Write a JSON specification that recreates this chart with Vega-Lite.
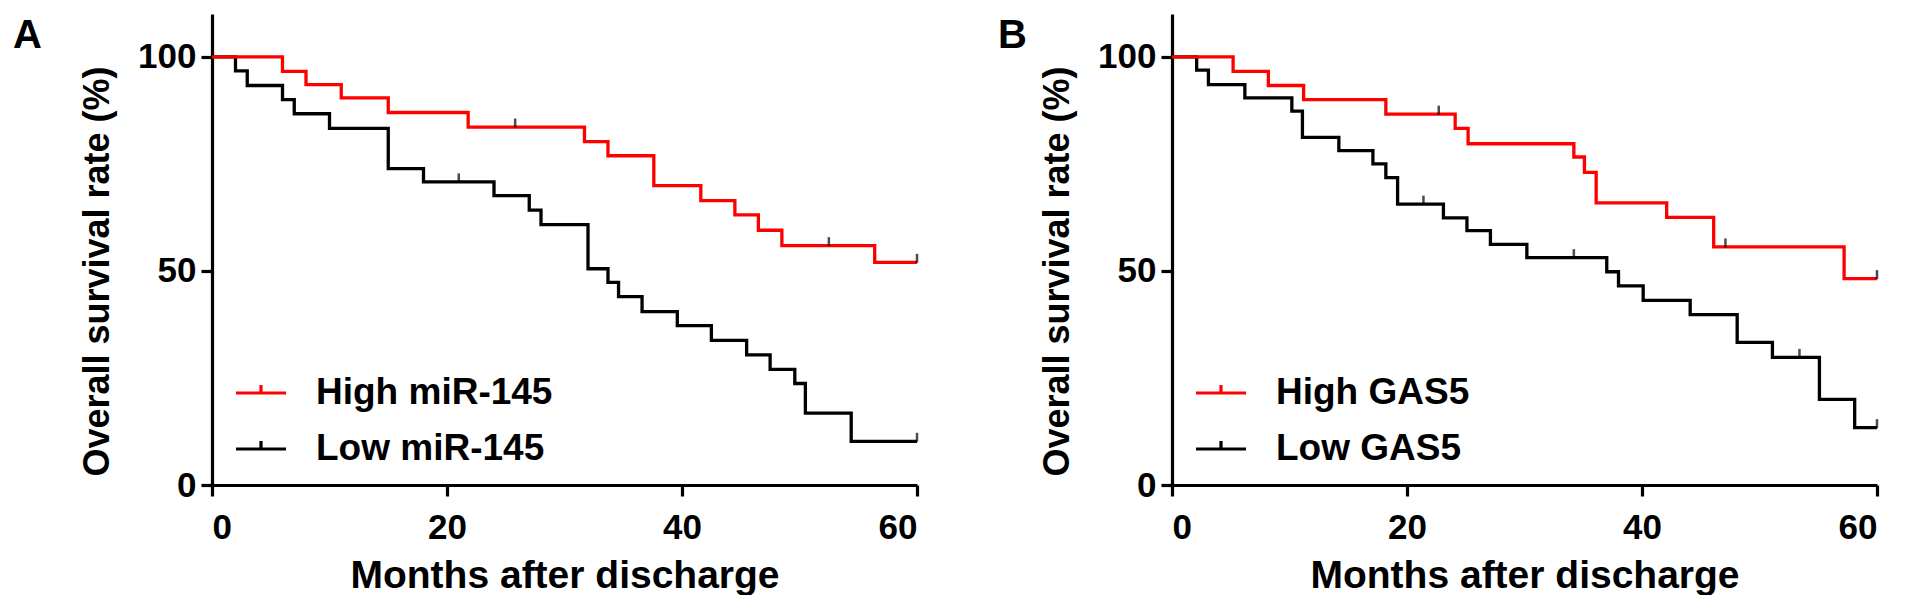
{
  "$schema": "https://vega.github.io/schema/vega-lite/v6.json",
  "background": "white",
  "padding": {"left": 13, "top": 14, "right": 0, "bottom": 0},
  "autosize": {"type": "pad"},
  "spacing": 74,
  "config": {
    "view": {"stroke": null},
    "font": "Liberation Sans",
    "axis": {
      "grid": false,
      "domainColor": "black",
      "domainWidth": 3.2,
      "tickColor": "black",
      "tickWidth": 3.2,
      "tickSize": 11,
      "labelFont": "Liberation Sans",
      "labelFontWeight": "bold",
      "labelFontSize": 35,
      "labelColor": "black",
      "titleFont": "Liberation Sans",
      "titleFontWeight": "bold",
      "titleFontSize": 36,
      "titleColor": "black"
    },
    "legend": {
      "orient": "none",
      "legendX": 22,
      "legendY": 352,
      "symbolType": "M-1,0H1M0,0V-0.32",
      "symbolSize": 2500,
      "symbolStrokeWidth": 3.2,
      "symbolFillColor": "transparent",
      "labelFont": "Liberation Sans",
      "labelFontWeight": "bold",
      "labelFontSize": 37,
      "labelColor": "black",
      "labelOffset": 28,
      "labelLimit": 0,
      "rowPadding": 11,
      "title": null
    },
    "title": {
      "font": "Liberation Sans",
      "fontWeight": "bold",
      "fontSize": 40,
      "color": "black",
      "anchor": "start",
      "frame": "group",
      "baseline": "top",
      "offset": -42
    }
  },
  "datasets": {
    "curveA": [
      {"group": "Low miR-145", "month": 0, "pct": 100},
      {"group": "Low miR-145", "month": 2, "pct": 96.7},
      {"group": "Low miR-145", "month": 3, "pct": 93.3},
      {"group": "Low miR-145", "month": 6, "pct": 90},
      {"group": "Low miR-145", "month": 7, "pct": 86.7},
      {"group": "Low miR-145", "month": 10, "pct": 83.3},
      {"group": "Low miR-145", "month": 15, "pct": 73.9},
      {"group": "Low miR-145", "month": 18, "pct": 70.8},
      {"group": "Low miR-145", "month": 24, "pct": 67.6},
      {"group": "Low miR-145", "month": 27, "pct": 64.2},
      {"group": "Low miR-145", "month": 28, "pct": 60.8},
      {"group": "Low miR-145", "month": 32, "pct": 50.5},
      {"group": "Low miR-145", "month": 33.7, "pct": 47.3},
      {"group": "Low miR-145", "month": 34.6, "pct": 44.0},
      {"group": "Low miR-145", "month": 36.6, "pct": 40.5},
      {"group": "Low miR-145", "month": 39.6, "pct": 37.2},
      {"group": "Low miR-145", "month": 42.5, "pct": 33.8},
      {"group": "Low miR-145", "month": 45.5, "pct": 30.4},
      {"group": "Low miR-145", "month": 47.5, "pct": 27.0},
      {"group": "Low miR-145", "month": 49.6, "pct": 23.7},
      {"group": "Low miR-145", "month": 50.5, "pct": 16.8},
      {"group": "Low miR-145", "month": 54.4, "pct": 10.2},
      {"group": "Low miR-145", "month": 60, "pct": 10.2},
      {"group": "High miR-145", "month": 0, "pct": 100},
      {"group": "High miR-145", "month": 6, "pct": 96.6},
      {"group": "High miR-145", "month": 8, "pct": 93.5},
      {"group": "High miR-145", "month": 11, "pct": 90.4},
      {"group": "High miR-145", "month": 15, "pct": 87.0},
      {"group": "High miR-145", "month": 21.8, "pct": 83.6},
      {"group": "High miR-145", "month": 31.7, "pct": 80.2},
      {"group": "High miR-145", "month": 33.7, "pct": 76.9},
      {"group": "High miR-145", "month": 37.6, "pct": 69.9},
      {"group": "High miR-145", "month": 41.6, "pct": 66.4},
      {"group": "High miR-145", "month": 44.5, "pct": 63.1},
      {"group": "High miR-145", "month": 46.5, "pct": 59.5},
      {"group": "High miR-145", "month": 48.5, "pct": 55.9},
      {"group": "High miR-145", "month": 56.4, "pct": 52.0},
      {"group": "High miR-145", "month": 60, "pct": 52.0}
    ],
    "censorA": [
      {"group": "Low miR-145", "month": 21, "pct": 70.8},
      {"group": "Low miR-145", "month": 60, "pct": 10.2},
      {"group": "High miR-145", "month": 25.8, "pct": 83.6},
      {"group": "High miR-145", "month": 52.5, "pct": 55.9},
      {"group": "High miR-145", "month": 60, "pct": 52.0}
    ],
    "curveB": [
      {"group": "Low GAS5", "month": 0, "pct": 100},
      {"group": "Low GAS5", "month": 2.1, "pct": 96.9},
      {"group": "Low GAS5", "month": 3.1, "pct": 93.5},
      {"group": "Low GAS5", "month": 6.2, "pct": 90.4},
      {"group": "Low GAS5", "month": 10.2, "pct": 87.3},
      {"group": "Low GAS5", "month": 11.1, "pct": 81.2},
      {"group": "Low GAS5", "month": 14.2, "pct": 78.1},
      {"group": "Low GAS5", "month": 17.1, "pct": 75.0},
      {"group": "Low GAS5", "month": 18.2, "pct": 71.8},
      {"group": "Low GAS5", "month": 19.2, "pct": 65.6},
      {"group": "Low GAS5", "month": 23.1, "pct": 62.4},
      {"group": "Low GAS5", "month": 25.1, "pct": 59.4},
      {"group": "Low GAS5", "month": 27.1, "pct": 56.2},
      {"group": "Low GAS5", "month": 30.2, "pct": 53.1},
      {"group": "Low GAS5", "month": 37.0, "pct": 49.8},
      {"group": "Low GAS5", "month": 38.0, "pct": 46.5},
      {"group": "Low GAS5", "month": 40.1, "pct": 43.1},
      {"group": "Low GAS5", "month": 44.1, "pct": 39.8},
      {"group": "Low GAS5", "month": 48.1, "pct": 33.3},
      {"group": "Low GAS5", "month": 51.1, "pct": 29.8},
      {"group": "Low GAS5", "month": 55.1, "pct": 20.0},
      {"group": "Low GAS5", "month": 58.1, "pct": 13.4},
      {"group": "Low GAS5", "month": 60, "pct": 13.4},
      {"group": "High GAS5", "month": 0, "pct": 100},
      {"group": "High GAS5", "month": 5.2, "pct": 96.6},
      {"group": "High GAS5", "month": 8.2, "pct": 93.3},
      {"group": "High GAS5", "month": 11.2, "pct": 90.0},
      {"group": "High GAS5", "month": 18.2, "pct": 86.6},
      {"group": "High GAS5", "month": 24.1, "pct": 83.3},
      {"group": "High GAS5", "month": 25.2, "pct": 79.7},
      {"group": "High GAS5", "month": 34.2, "pct": 76.6},
      {"group": "High GAS5", "month": 35.1, "pct": 73.0},
      {"group": "High GAS5", "month": 36.1, "pct": 65.9},
      {"group": "High GAS5", "month": 42.1, "pct": 62.5},
      {"group": "High GAS5", "month": 46.1, "pct": 55.6},
      {"group": "High GAS5", "month": 57.2, "pct": 48.2},
      {"group": "High GAS5", "month": 60, "pct": 48.2}
    ],
    "censorB": [
      {"group": "Low GAS5", "month": 21.4, "pct": 65.6},
      {"group": "Low GAS5", "month": 34.2, "pct": 53.1},
      {"group": "Low GAS5", "month": 53.4, "pct": 29.8},
      {"group": "Low GAS5", "month": 60, "pct": 13.4},
      {"group": "High GAS5", "month": 22.7, "pct": 86.6},
      {"group": "High GAS5", "month": 47.1, "pct": 55.6},
      {"group": "High GAS5", "month": 60, "pct": 48.2}
    ]
  },
  "resolve": {"scale": {"color": "independent"}, "legend": {"color": "independent"}},
  "hconcat": [
    {
      "title": {"text": "A", "dx": -199},
      "width": 705,
      "height": 471,
      "layer": [
        {
          "data": {"name": "curveA"},
          "mark": {"type": "line", "interpolate": "step-after", "strokeWidth": 3.3, "strokeJoin": "miter"},
          "encoding": {
            "x": {"field": "month", "type": "quantitative", "scale": {"domain": [0, 60], "nice": false},
                  "axis": {"values": [0, 20, 40, 60], "title": "Months after discharge", "titleFontSize": 39, "labelPadding": 14, "titleY": 102, "titleBaseline": "alphabetic"}},
            "y": {"field": "pct", "type": "quantitative", "scale": {"domain": [0, 110], "nice": false},
                  "axis": {"values": [0, 50, 100], "title": "Overall survival rate (%)", "labelPadding": 5, "titleX": -104, "titleY": 257, "titleBaseline": "alphabetic", "titleAlign": "center", "titleAngle": -90}},
            "color": {"field": "group", "type": "nominal",
                      "scale": {"domain": ["High miR-145", "Low miR-145"], "range": ["#ff0000", "#000000"]},
                      "legend": {}}
          }
        },
        {
          "data": {"name": "censorA"},
          "mark": {"type": "tick", "orient": "vertical", "color": "black", "size": 9, "thickness": 2.5, "yOffset": -4},
          "encoding": {
            "x": {"field": "month", "type": "quantitative"},
            "y": {"field": "pct", "type": "quantitative"}
          }
        }
      ]
    },
    {
      "title": {"text": "B", "dx": -174},
      "width": 705,
      "height": 471,
      "layer": [
        {
          "data": {"name": "curveB"},
          "mark": {"type": "line", "interpolate": "step-after", "strokeWidth": 3.3, "strokeJoin": "miter"},
          "encoding": {
            "x": {"field": "month", "type": "quantitative", "scale": {"domain": [0, 60], "nice": false},
                  "axis": {"values": [0, 20, 40, 60], "title": "Months after discharge", "titleFontSize": 39, "labelPadding": 14, "titleY": 102, "titleBaseline": "alphabetic"}},
            "y": {"field": "pct", "type": "quantitative", "scale": {"domain": [0, 110], "nice": false},
                  "axis": {"values": [0, 50, 100], "title": "Overall survival rate (%)", "labelPadding": 5, "titleX": -104, "titleY": 257, "titleBaseline": "alphabetic", "titleAlign": "center", "titleAngle": -90}},
            "color": {"field": "group", "type": "nominal",
                      "scale": {"domain": ["High GAS5", "Low GAS5"], "range": ["#ff0000", "#000000"]},
                      "legend": {}}
          }
        },
        {
          "data": {"name": "censorB"},
          "mark": {"type": "tick", "orient": "vertical", "color": "black", "size": 9, "thickness": 2.5, "yOffset": -4},
          "encoding": {
            "x": {"field": "month", "type": "quantitative"},
            "y": {"field": "pct", "type": "quantitative"}
          }
        }
      ]
    }
  ]
}
